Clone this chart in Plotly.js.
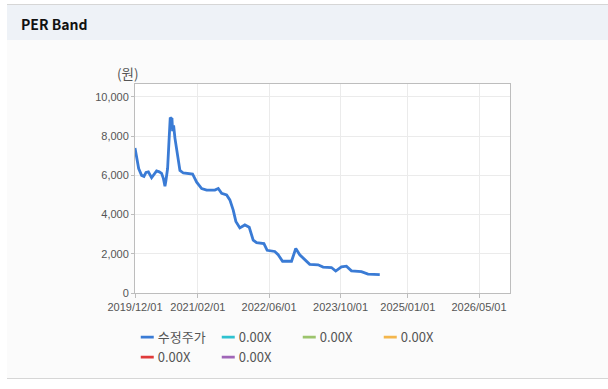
<!DOCTYPE html>
<html>
<head>
<meta charset="utf-8">
<script src="https://cdn.plot.ly/plotly-3.0.1.min.js"></script>
<style>
  html, body { margin: 0; padding: 0; background: #ffffff; }
  #wrap { position: relative; width: 608px; height: 389px; overflow: hidden; }
  #topline { position: absolute; left: 7px; top: 4px; width: 601px; height: 1px; background: #d6d6d6; }
  #header { position: absolute; left: 7px; top: 5px; width: 601px; height: 35px; background: #eef2f7; }
  #header span { position: absolute; left: 14px; top: 9px; font: bold 14px "Noto Sans CJK KR", "Liberation Sans", sans-serif; color: #111; }
  #bodybg { position: absolute; left: 7px; top: 40px; width: 601px; height: 338px; background: #fbfbfb; }
  #botline { position: absolute; left: 7px; top: 378px; width: 601px; height: 1px; background: #d6d6d6; }
  #chart { position: absolute; left: 0; top: 0; width: 608px; height: 389px; }
</style>
</head>
<body>
<div id="wrap">
  <div id="topline"></div>
  <div id="header"><span>PER Band</span></div>
  <div id="bodybg"></div>
  <div id="botline"></div>
  <div id="chart"></div>
</div>
<script>
// Adjusted share price (수정주가)
const priceDates = [
  "2019-12-01","2019-12-11","2019-12-26","2020-01-15","2020-01-31","2020-02-14","2020-03-01","2020-03-23",
  "2020-04-09","2020-04-26","2020-05-14","2020-05-30","2020-06-11","2020-06-22","2020-06-28","2020-07-10",
  "2020-07-21","2020-07-28","2020-08-03","2020-08-09","2020-08-13","2020-08-20","2020-08-29","2020-09-09",
  "2020-09-21","2020-10-02","2020-10-25","2020-11-28","2020-12-27","2021-01-24","2021-02-27","2021-04-02",
  "2021-05-28","2021-06-20","2021-07-13","2021-08-16","2021-09-07","2021-09-30","2021-10-18","2021-11-14",
  "2021-12-18","2022-01-17","2022-02-13","2022-03-08","2022-04-27","2022-05-19","2022-07-10","2022-08-02",
  "2022-09-01","2022-11-01","2022-11-30","2022-12-27","2023-01-30","2023-03-05","2023-05-01","2023-06-04",
  "2023-07-31","2023-08-29","2023-10-07","2023-11-10","2023-12-14","2024-02-20","2024-04-05","2024-06-24"
];
const priceValues = [
  7400,6900,6350,6000,5950,6150,6180,5880,
  6050,6230,6180,6100,5850,5450,5700,6350,
  7950,8950,8900,8880,8250,8550,7900,7350,
  6850,6250,6120,6100,6070,5650,5330,5250,
  5250,5330,5080,5000,4750,4230,3650,3320,
  3470,3350,2700,2570,2520,2180,2120,1950,
  1620,1620,2270,1950,1680,1460,1440,1320,
  1300,1120,1330,1370,1130,1090,960,940
];
const seriesNames = ["수정주가","0.00X","0.00X","0.00X","0.00X","0.00X"];
const seriesColors = ["#3a7bd5","#2fc2d0","#9cc46c","#f4b64c","#e03a3a","#a066b8"];
const xTickVals = ["2019-12-01","2021-02-01","2022-06-01","2023-10-01","2025-01-01","2026-05-01"];
const xTickText = ["2019/12/01","2021/02/01","2022/06/01","2023/10/01","2025/01/01","2026/05/01"];
const yTickVals = [0,2000,4000,6000,8000,10000];
const xRange = ["2019-12-01","2026-11-28"];
const yRange = [0,10660];
const unitLabel = "(원)";

const traces = seriesNames.map((name, i) => ({
  type: "scatter",
  mode: "lines",
  name: name,
  x: i === 0 ? priceDates : [null],
  y: i === 0 ? priceValues : [null],
  line: { color: seriesColors[i], width: 2.8 },
  hoverinfo: "x+y"
}));

const tickFont = { family: "Liberation Sans, Arial, sans-serif", size: 11, color: "#555" };

const layout = {
  width: 608, height: 389,
  margin: { l: 135, r: 98, t: 84, b: 96, pad: 0 },
  paper_bgcolor: "rgba(0,0,0,0)",
  plot_bgcolor: "#ffffff",
  showlegend: true,
  legend: {
    orientation: "h",
    x: 0.002, xanchor: "left",
    y: -0.14, yanchor: "top",
    font: { family: "Noto Sans CJK KR, Liberation Sans, sans-serif", size: 13, color: "#555" },
    itemwidth: 30,
    entrywidth: 36,
    tracegroupgap: 0,
    bgcolor: "rgba(0,0,0,0)"
  },
  xaxis: {
    type: "date",
    range: xRange,
    tickvals: xTickVals,
    ticktext: xTickText,
    tickfont: tickFont,
    showgrid: true, gridcolor: "#ebebeb", gridwidth: 1,
    showline: true, linecolor: "#bdbdbd", linewidth: 1, mirror: true,
    ticks: "outside", ticklen: 4, tickcolor: "#bdbdbd",
    zeroline: false, fixedrange: true
  },
  yaxis: {
    range: yRange,
    tickvals: yTickVals,
    tickformat: ",",
    tickfont: tickFont,
    showgrid: true, gridcolor: "#ebebeb", gridwidth: 1,
    showline: true, linecolor: "#bdbdbd", linewidth: 1, mirror: true,
    ticks: "outside", ticklen: 3, tickcolor: "#bdbdbd",
    zeroline: false, fixedrange: true
  },
  annotations: [{
    text: unitLabel, xref: "paper", yref: "paper",
    x: -0.019, y: 1.055, xanchor: "center", yanchor: "middle",
    showarrow: false,
    font: { family: "Noto Sans CJK KR, sans-serif", size: 13.5, color: "#555" }
  }]
};

Plotly.newPlot("chart", traces, layout, { displayModeBar: false, staticPlot: true }).then(gd => {
  // Shorter legend swatches, text right after them (as in the reference)
  gd.querySelectorAll(".legend .traces").forEach(g => {
    g.querySelectorAll(".legendlines path").forEach(p => p.setAttribute("d", "M5,0h13"));
    const t = g.querySelector(".legendtext");
    if (t) {
      t.setAttribute("x", 22);
      t.querySelectorAll("tspan").forEach(s => { if (s.hasAttribute("x")) s.setAttribute("x", 22); });
    }
  });
});
</script>
</body>
</html>
